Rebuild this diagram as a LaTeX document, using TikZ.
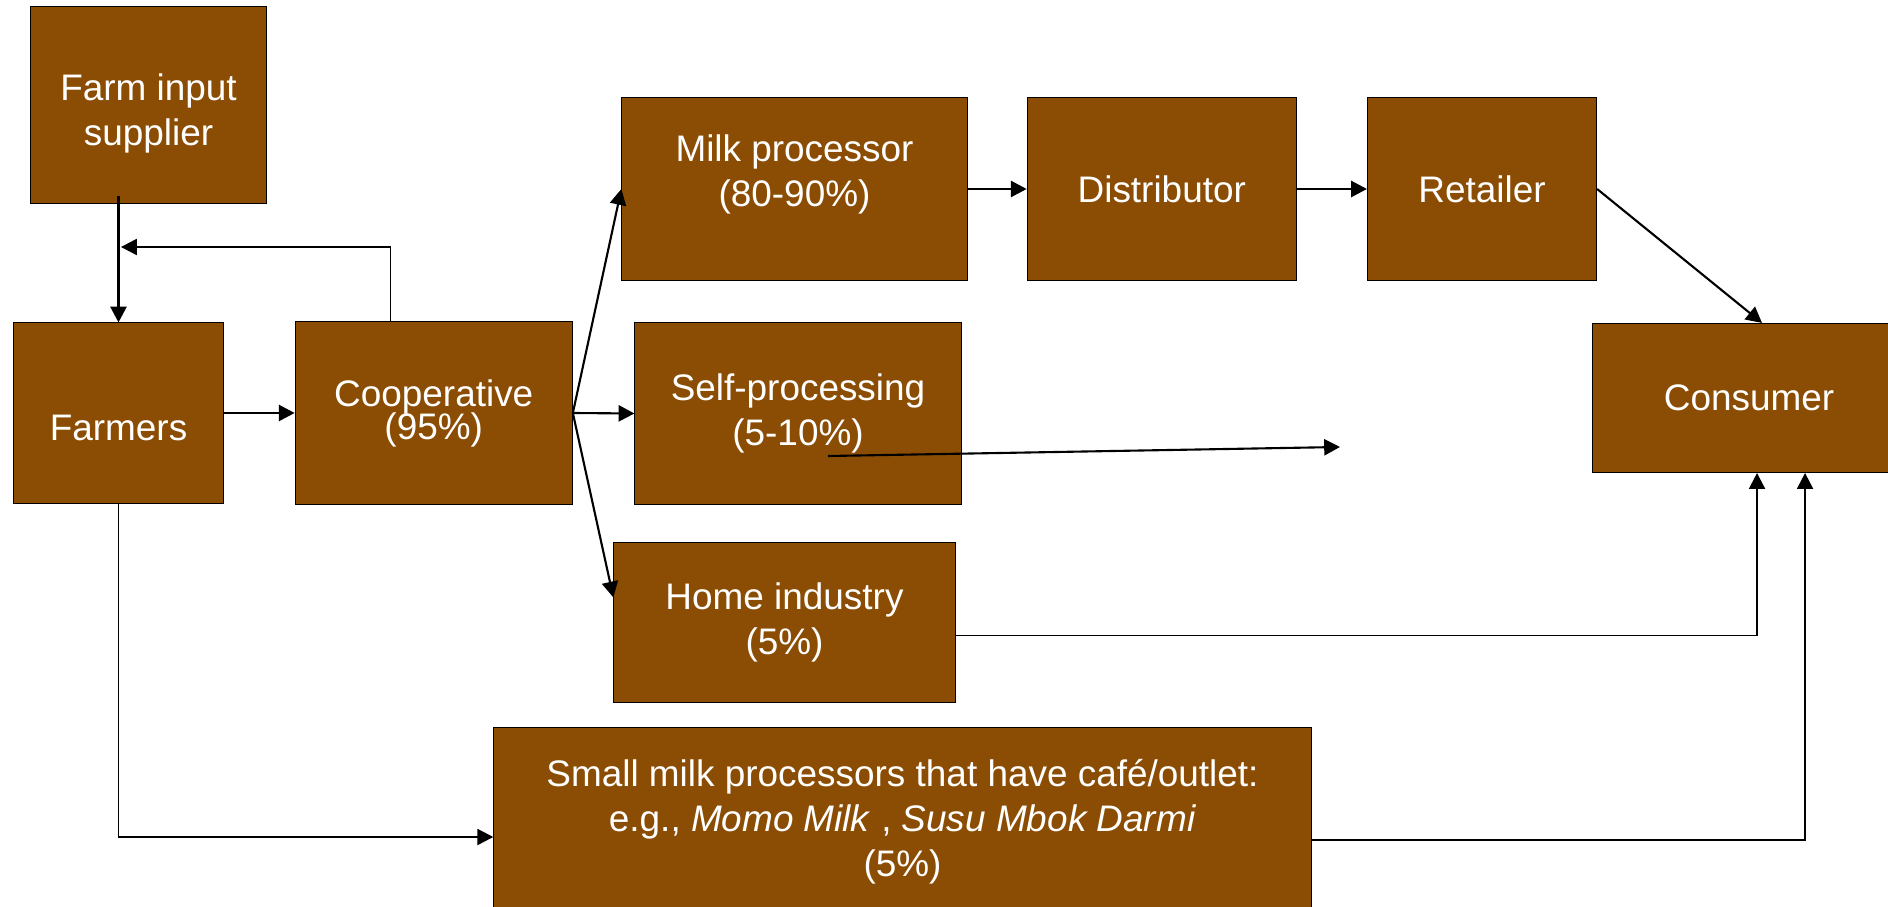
\documentclass[tikz,border=0pt]{standalone}
\usepackage{fontspec}
\setmainfont{Liberation Sans}
\usepackage{tikz}
\usetikzlibrary{arrows.meta,positioning,calc}
\definecolor{milkbrown}{RGB}{139,77,3}
\tikzset{
    chainbox/.style={
        rectangle,                % plain rectangle, square corners
        draw=black,               % thin dark border
        fill=milkbrown,           % brown fill used for every stage
        text=white,               % white labels on the brown
        line width=0.3pt,
        inner sep=0pt,            % size comes from minimum width/height
        align=center,             % lines centred inside the box
        font=\fontsize{10.5}{12.8}\selectfont
    },
    flow/.style={
        line width=0.6pt,         % main product flow
        -{Triangle[length=4.5pt,width=4.6pt]}
    },
    thinflow/.style={
        line width=0.35pt,        % thinner return and side lines
        -{Triangle[length=4.5pt,width=4.6pt]}
    }
}

\begin{document}
\begin{tikzpicture}[x=0.01cm,y=-0.01cm]
    \useasboundingbox (0,0) rectangle (1888,907);

    \node[chainbox, minimum width=2.35cm, minimum height=1.96cm, text height=25pt] (supplier) at (148.5,105) {Farm input\\supplier};
    \node[chainbox, minimum width=2.09cm, minimum height=1.80cm, text height=16pt] (farmers) at (118.5,413) {Farmers};
    \node[chainbox, minimum width=2.77cm, minimum height=1.83cm, right=0.71cm of farmers] (coop) {Cooperative\\[-3.4pt](95\%)};
    \node[chainbox, minimum width=3.45cm, minimum height=1.82cm, text depth=10.5pt] (milk) at (794.5,189) {Milk processor\\(80-90\%)};
    \node[chainbox, minimum width=2.69cm, minimum height=1.82cm, right=0.59cm of milk] (distrib) {Distributor};
    \node[chainbox, minimum width=2.29cm, minimum height=1.82cm, right=0.70cm of distrib] (retailer) {Retailer};
    \node[chainbox, minimum width=3.12cm, minimum height=1.49cm] (consumer) at (1749,398) {Consumer};
    \node[chainbox, minimum width=3.26cm, minimum height=1.81cm] (self) at (798,413.5) {Self-processing\\(5-10\%)};
    \node[chainbox, minimum width=3.41cm, minimum height=1.59cm] (home) at (784.5,622.5) {Home industry\\(5\%)};
    \node[chainbox, minimum width=8.17cm, minimum height=1.88cm] (small) at (902.5,822)
        {Small milk processors that have café/outlet:\\e.g., \textit{Momo Milk} , \textit{Susu Mbok Darmi}\\(5\%)};

    \coordinate (back) at (121,247);
    \coordinate (selfend) at (1340,447);

    \draw[flow] ([yshift=0.08cm]farmers.north |- supplier.south) -- (farmers.north);
    \draw[thinflow] ([xshift=-0.435cm]coop.north) |- (back);
    \draw[flow] (farmers) -- (coop);
    \draw[flow] (coop.east) -- (milk.west);
    \draw[flow] (coop.east) -- (self.west);
    \draw[flow] (coop.east) -- ([yshift=0.25cm]home.west);
    \draw[flow] (milk) -- (distrib);
    \draw[flow] (distrib) -- (retailer);
    \draw[flow] (retailer.east) -- ([xshift=0.13cm]consumer.north);
    \draw[flow] ([xshift=0.3cm,yshift=-0.425cm]self.center) -- (selfend);
    \draw[thinflow] ([yshift=-0.13cm]home.east) -| ([xshift=0.08cm]consumer.south);
    \draw[thinflow] (farmers.south) |- ([yshift=-0.15cm]small.west);
    \draw[thinflow] ([yshift=-0.18cm]small.east) -| ([xshift=0.56cm]consumer.south);
\end{tikzpicture}
\end{document}
